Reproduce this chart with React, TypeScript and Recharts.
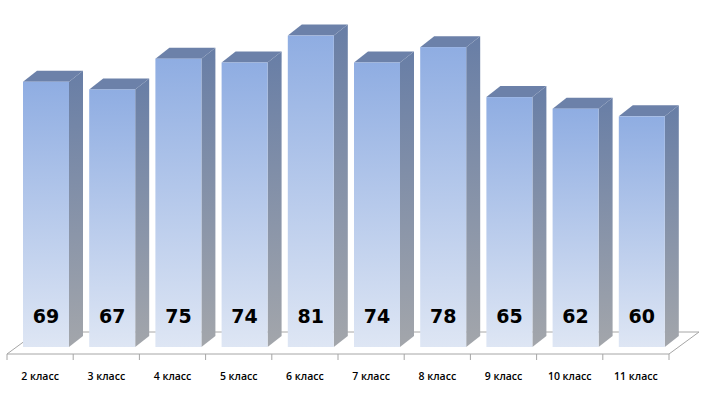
import React from 'react';
import { BarChart, Bar, XAxis, YAxis, LabelList } from 'recharts';

const categories = ['2 класс', '3 класс', '4 класс', '5 класс', '6 класс', '7 класс', '8 класс', '9 класс', '10 класс', '11 класс'];
const scores = [69, 67, 75, 74, 81, 74, 78, 65, 62, 60];

const data = categories.map((name, i) => ({ name, score: scores[i] }));

const W = 704;
const H = 394;
const M = { top: 1, right: 35, left: 7, bottom: 0 };
const AXIS_H = 47;
const SHIFT = 6; // bars sit a little back on the floor
const DX = 14; // depth of a bar
const DY = 11;

const Box3D = (props: any) => {
  const { x, y, width, height } = props;
  const fx = x + SHIFT;
  const b = y + height;
  return (
    <g>
      <polygon
        points={`${fx + width},${y} ${fx + width + DX},${y - DY} ${fx + width + DX},${b - DY} ${fx + width},${b}`}
        fill="url(#sideGrad)"
      />
      <polygon
        points={`${fx},${y} ${fx + DX},${y - DY} ${fx + width + DX},${y - DY} ${fx + width},${y}`}
        fill="#6c81a9"
      />
      <rect x={fx} y={y} width={width} height={height} fill="url(#frontGrad)" />
    </g>
  );
};

const ValueLabel = (props: any) => {
  const { x, y, width, height, value } = props;
  return (
    <text
      x={x + SHIFT + width / 2}
      y={y + height - 24}
      textAnchor="middle"
      fontFamily="DejaVu Sans"
      fontWeight="bold"
      fontSize={19}
      fill="#000"
    >
      {value}
    </text>
  );
};

const CategoryTick = (props: any) => {
  const { x, y, payload } = props;
  return (
    <text
      x={x}
      y={y + 33}
      textAnchor="middle"
      fontFamily="Open Sans"
      fontWeight="600"
      fontSize={10.5}
      fill="#000"
    >
      {payload.value}
    </text>
  );
};

// floor plane under the bars, with ticks on category boundaries
const Floor = () => {
  const left = M.left;
  const right = W - M.right;
  const front = 354;
  const back = 332;
  const depth = 30;
  const band = (right - left) / categories.length;
  return (
    <svg width={W} height={H} style={{ position: 'absolute', left: 0, top: 0 }}>
      <polygon
        points={`${left},${front} ${right},${front} ${right + depth},${back} ${left + depth},${back}`}
        fill="#fff"
        stroke="#a6a6a6"
        strokeWidth={1}
      />
      {Array.from({ length: categories.length + 1 }, (_, i) => (
        <line
          key={i}
          x1={left + band * i}
          x2={left + band * i}
          y1={front}
          y2={front + 6}
          stroke="#a6a6a6"
        />
      ))}
    </svg>
  );
};

export default function App() {
  return (
    <div style={{ position: 'absolute', left: 0, top: 0, width: W, height: H, background: '#fff' }}>
      <Floor />
      <div style={{ position: 'absolute', left: 0, top: 0 }}>
        <BarChart width={W} height={H} data={data} margin={M} barSize={46}>
          <defs>
            <linearGradient id="frontGrad" x1="0" y1="0" x2="0" y2="1">
              <stop offset="0%" stopColor="#8fade2" />
              <stop offset="100%" stopColor="#dee6f4" />
            </linearGradient>
            <linearGradient id="sideGrad" x1="0" y1="0" x2="0" y2="1">
              <stop offset="0%" stopColor="#687ea6" />
              <stop offset="100%" stopColor="#a3a6ab" />
            </linearGradient>
          </defs>
          <XAxis
            dataKey="name"
            height={AXIS_H}
            axisLine={false}
            tickLine={false}
            tickSize={0}
            tickMargin={0}
            interval={0}
            tick={<CategoryTick />}
          />
          <YAxis hide domain={[0, 90]} />
          <Bar dataKey="score" shape={<Box3D />} isAnimationActive={false}>
            <LabelList dataKey="score" content={<ValueLabel />} />
          </Bar>
        </BarChart>
      </div>
    </div>
  );
}
